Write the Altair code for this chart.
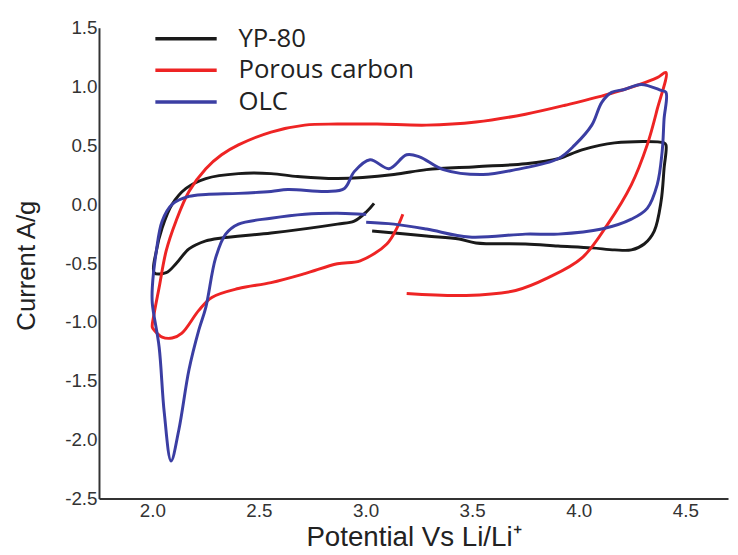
import altair as alt
import pandas as pd

series_names = ["YP-80", "Porous carbon", "OLC"]
series_colors = ["#1a1a1a", "#ee2424", "#3b3ea3"]

yp80_x = [3.031, 3.286, 3.439, 3.518, 3.750, 3.903, 4.061, 4.168, 4.247, 4.307, 4.354, 4.386,
          4.400, 4.409, 4.400, 4.168, 4.015, 3.903, 3.750, 3.518, 3.286, 3.133, 2.868, 2.682,
          2.557, 2.404, 2.251, 2.158, 2.093, 2.046, 2.019, 2.009, 2.065, 2.111, 2.172, 2.251,
          2.325, 2.557, 2.868, 2.947, 3.007, 3.040]
yp80_y = [-0.227, -0.269, -0.295, -0.328, -0.337, -0.354, -0.370, -0.387, -0.387, -0.337, -0.227, 0.025,
          0.303, 0.505, 0.522, 0.522, 0.463, 0.387, 0.345, 0.320, 0.295, 0.253, 0.219, 0.236,
          0.261, 0.261, 0.219, 0.135, 0.0, -0.202, -0.396, -0.581, -0.581, -0.505, -0.379, -0.311,
          -0.286, -0.244, -0.168, -0.143, -0.059, 0.008]

porous_x = [3.193, 3.472, 3.704, 3.857, 4.015, 4.136, 4.247, 4.321, 4.368, 4.409, 4.368, 4.168,
            3.936, 3.750, 3.518, 3.286, 3.054, 2.868, 2.715, 2.557, 2.404, 2.325, 2.251, 2.172,
            2.111, 2.065, 2.032, 2.009, 2.000, 2.009, 2.046, 2.093, 2.139, 2.218, 2.279, 2.404,
            2.557, 2.715, 2.868, 2.975, 3.100, 3.147, 3.175]
porous_y = [-0.758, -0.774, -0.732, -0.623, -0.455, -0.168, 0.168, 0.505, 0.808, 1.120, 1.077, 0.951,
            0.842, 0.766, 0.699, 0.673, 0.682, 0.682, 0.673, 0.614, 0.505, 0.421, 0.303, 0.109,
            -0.143, -0.396, -0.707, -0.926, -1.044, -1.069, -1.128, -1.136, -1.094, -0.901, -0.791, -0.715,
            -0.665, -0.589, -0.505, -0.480, -0.337, -0.202, -0.084]

olc_x = [3.003, 3.133, 3.286, 3.486, 3.750, 3.903, 4.108, 4.247, 4.321, 4.368, 4.391, 4.400,
         4.409, 4.386, 4.293, 4.214, 4.154, 4.108, 4.061, 3.982, 3.903, 3.704, 3.551, 3.365,
         3.253, 3.193, 3.110, 3.021, 2.947, 2.901, 2.822, 2.636, 2.557, 2.404, 2.251, 2.172,
         2.093, 2.046, 2.019, 2.000, 2.000, 2.032, 2.056, 2.088, 2.125, 2.172, 2.218, 2.251,
         2.297, 2.344, 2.404, 2.557, 2.715, 2.868, 2.994, 3.003]
olc_y = [-0.152, -0.168, -0.210, -0.278, -0.253, -0.253, -0.210, -0.126, -0.034, 0.168, 0.446, 0.724,
         0.951, 0.968, 1.019, 0.976, 0.951, 0.867, 0.673, 0.505, 0.387, 0.295, 0.253, 0.295,
         0.404, 0.421, 0.303, 0.379, 0.278, 0.135, 0.109, 0.126, 0.109, 0.093, 0.084, 0.067,
         0.0, -0.143, -0.396, -0.707, -0.842, -1.212, -1.768, -2.180, -1.911, -1.406, -1.069, -0.875,
         -0.455, -0.253, -0.168, -0.118, -0.084, -0.076, -0.084, -0.084]

x_ticks = [2.0, 2.5, 3.0, 3.5, 4.0, 4.5]
y_ticks = [-2.5, -2.0, -1.5, -1.0, -0.5, 0.0, 0.5, 1.0, 1.5]

rows = []
for name, xs, ys in zip(series_names, [yp80_x, porous_x, olc_x], [yp80_y, porous_y, olc_y]):
    for i, (xv, yv) in enumerate(zip(xs, ys)):
        rows.append({"series": name, "potential": xv, "current": yv, "idx": i})
df = pd.DataFrame(rows)

font = "Liberation Sans"
hyphen_labels = "replace(format(datum.value, '.1f'), '\u2212', '-')"

chart = alt.Chart(df).mark_line(strokeWidth=3, interpolate="catmull-rom").encode(
    x=alt.X("potential:Q",
            scale=alt.Scale(domain=[1.75, 4.70], nice=False, zero=False),
            axis=alt.Axis(values=x_ticks, labelExpr=hyphen_labels, title="Potential Vs Li/Li⁺",
                          titleFontSize=28, titleY=47, titleBaseline="alphabetic",
                          labelPadding=3)),
    y=alt.Y("current:Q",
            scale=alt.Scale(domain=[-2.5, 1.5], nice=False, zero=False),
            axis=alt.Axis(values=y_ticks, labelExpr=hyphen_labels, title="Current A/g",
                          titleFontSize=26, titleX=-65, titleY=240, titleBaseline="alphabetic",
                          titleAngle=-90, titleAlign="center", labelPadding=2)),
    color=alt.Color("series:N",
                    scale=alt.Scale(domain=series_names, range=series_colors),
                    legend=alt.Legend(title=None, orient="none", legendX=55, legendY=-5,
                                      symbolType="stroke", symbolSize=3844, symbolStrokeWidth=3.5,
                                      clipHeight=32, rowPadding=0, padding=0,
                                      labelFont="Open Sans", labelFontSize=26, labelColor="#222",
                                      labelOffset=20, labelLimit=400)),
    order="idx:Q",
    detail="series:N",
).properties(
    width=636, height=476,
    autosize=alt.AutoSizeParams(type="none"),
    padding={"left": 92, "top": 17, "right": 2, "bottom": 50},
).configure_view(stroke=None).configure_axis(
    grid=False, ticks=False, domainColor="#333", domainWidth=2,
    labelFont=font, labelFontSize=19, labelColor="#333", labelFlush=False,
    titleFont=font, titleFontWeight="normal", titleColor="#222",
)

chart.save("out.html", embed_options={"renderer": "svg", "actions": False})
